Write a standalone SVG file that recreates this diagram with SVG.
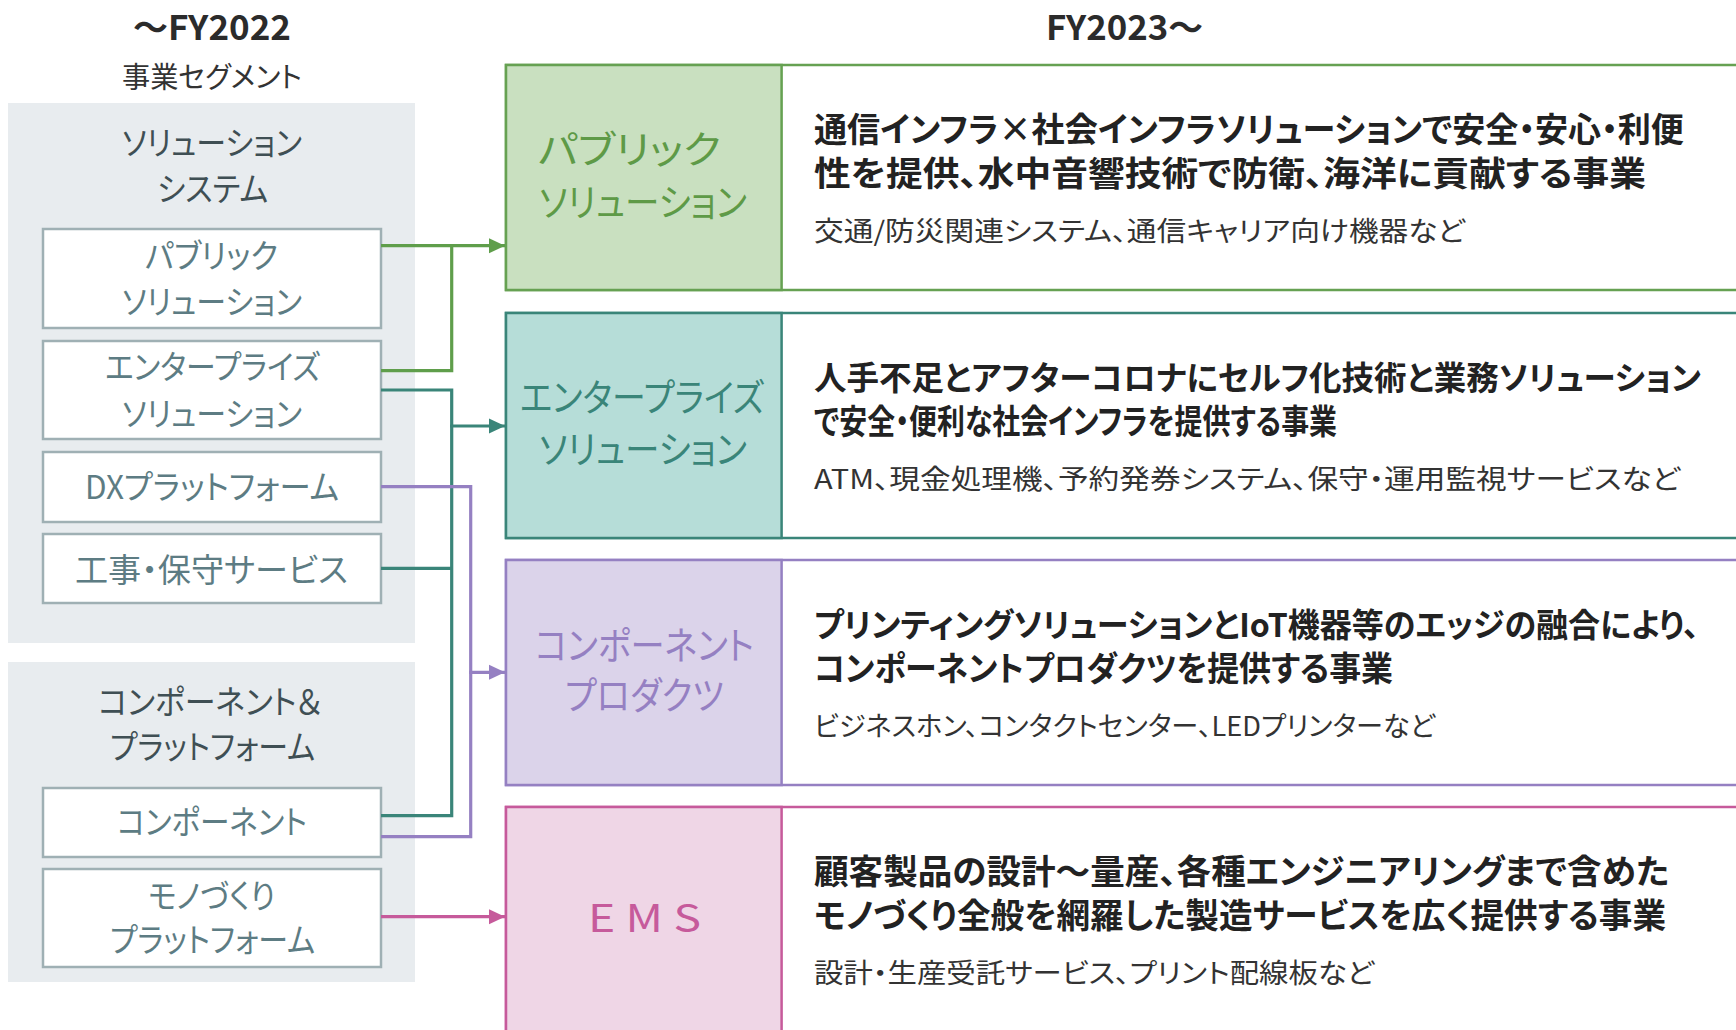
<svg xmlns="http://www.w3.org/2000/svg" width="1736" height="1030" viewBox="0 0 1736 1030">
<style>
text{font-family:"Noto Sans CJK JP","Noto Sans",sans-serif;font-feature-settings:"palt" 1;}
.hdr{font-size:34px;font-weight:700;fill:#2b2b2b;}
.seg{font-size:29px;fill:#333;}
.panel{fill:#e8ecef;}
.ptitle{font-size:33px;fill:#3f4f54;}
.wbox{fill:#fff;stroke:#9fb0b4;stroke-width:2.5;}
.wtxt{font-size:33px;fill:#5d7c83;}
.ctitle{font-size:38px;}
.desc{font-size:34px;font-weight:700;fill:#222;}
.desc.long{font-size:32.5px;}
.sub{font-size:27px;fill:#333;}
.conn{fill:none;stroke-width:3.2;}
.g{stroke:#5f9e4b;} .t{stroke:#3a8579;} .p{stroke:#9580c2;} .m{stroke:#c65a9b;}
</style>
<defs>
<marker id="ag" viewBox="0 0 16 16" refX="16" refY="8" markerWidth="16" markerHeight="16" markerUnits="userSpaceOnUse" orient="auto"><path d="M0,0.5 L16,8 L0,15.5 Z" fill="#5f9e4b"/></marker>
<marker id="at" viewBox="0 0 16 16" refX="16" refY="8" markerWidth="16" markerHeight="16" markerUnits="userSpaceOnUse" orient="auto"><path d="M0,0.5 L16,8 L0,15.5 Z" fill="#3a8579"/></marker>
<marker id="ap" viewBox="0 0 16 16" refX="16" refY="8" markerWidth="16" markerHeight="16" markerUnits="userSpaceOnUse" orient="auto"><path d="M0,0.5 L16,8 L0,15.5 Z" fill="#9580c2"/></marker>
<marker id="am" viewBox="0 0 16 16" refX="16" refY="8" markerWidth="16" markerHeight="16" markerUnits="userSpaceOnUse" orient="auto"><path d="M0,0.5 L16,8 L0,15.5 Z" fill="#c65a9b"/></marker>
</defs>
<rect width="1736" height="1030" fill="#fff"/>

<g id="headers">
<text class="hdr" x="133" y="40" textLength="158" lengthAdjust="spacingAndGlyphs">～FY2022</text>
<text class="seg" x="122" y="88" textLength="180" lengthAdjust="spacingAndGlyphs">事業セグメント</text>
<text class="hdr" x="1046" y="40" textLength="157" lengthAdjust="spacingAndGlyphs">FY2023～</text>
</g>

<g id="panel-solution-system">
<rect class="panel" x="8" y="103" width="407" height="540"/>
<text class="ptitle" x="122" y="155" textLength="180" lengthAdjust="spacingAndGlyphs">ソリューション</text>
<text class="ptitle" x="157" y="201" textLength="111" lengthAdjust="spacingAndGlyphs">システム</text>
</g>
<g id="panel-component-platform">
<rect class="panel" x="8" y="662" width="407" height="320"/>
<text class="ptitle" x="98" y="714" textLength="224" lengthAdjust="spacingAndGlyphs">コンポーネント＆</text>
<text class="ptitle" x="110" y="759" textLength="205" lengthAdjust="spacingAndGlyphs">プラットフォーム</text>
</g>

<g id="old-public">
<rect class="wbox" x="43" y="229" width="338" height="99"/>
<text class="wtxt" x="145" y="268" textLength="133" lengthAdjust="spacingAndGlyphs">パブリック</text>
<text class="wtxt" x="122" y="314" textLength="180" lengthAdjust="spacingAndGlyphs">ソリューション</text>
</g>
<g id="old-enterprise">
<rect class="wbox" x="43" y="341" width="338" height="98"/>
<text class="wtxt" x="105" y="379" textLength="215" lengthAdjust="spacingAndGlyphs">エンタープライズ</text>
<text class="wtxt" x="122" y="426" textLength="180" lengthAdjust="spacingAndGlyphs">ソリューション</text>
</g>
<g id="old-dx">
<rect class="wbox" x="43" y="452" width="338" height="70"/>
<text class="wtxt" x="85" y="499" textLength="254" lengthAdjust="spacingAndGlyphs">DXプラットフォーム</text>
</g>
<g id="old-service">
<rect class="wbox" x="43" y="534" width="338" height="69"/>
<text class="wtxt" x="75" y="582" textLength="273" lengthAdjust="spacingAndGlyphs">工事・保守サービス</text>
</g>
<g id="old-component">
<rect class="wbox" x="43" y="788" width="338" height="69"/>
<text class="wtxt" x="117" y="834" textLength="190" lengthAdjust="spacingAndGlyphs">コンポーネント</text>
</g>
<g id="old-monozukuri">
<rect class="wbox" x="43" y="869" width="338" height="98"/>
<text class="wtxt" x="148" y="908" textLength="127" lengthAdjust="spacingAndGlyphs">モノづくり</text>
<text class="wtxt" x="110" y="952" textLength="205" lengthAdjust="spacingAndGlyphs">プラットフォーム</text>
</g>

<g id="new-public">
<rect x="506" y="65" width="1236" height="225" fill="#fff" stroke="#66a152" stroke-width="2.5"/>
<rect x="506" y="65" width="275.6" height="225" fill="#c9e0c0" stroke="#66a152" stroke-width="2.5"/>
<text class="ctitle" fill="#5e9a47" x="538" y="163" textLength="183" lengthAdjust="spacingAndGlyphs">パブリック</text>
<text class="ctitle" fill="#5e9a47" x="539" y="216" textLength="208" lengthAdjust="spacingAndGlyphs">ソリューション</text>
<text class="desc" x="814" y="141.5" textLength="870" lengthAdjust="spacingAndGlyphs">通信インフラ×社会インフラソリューションで安全・安心・利便</text>
<text class="desc" x="814" y="186" textLength="832" lengthAdjust="spacingAndGlyphs">性を提供、水中音響技術で防衛、海洋に貢献する事業</text>
<text class="sub" x="814" y="241" textLength="651" lengthAdjust="spacingAndGlyphs">交通/防災関連システム、通信キャリア向け機器など</text>
</g>
<g id="new-enterprise">
<rect x="506" y="313" width="1236" height="225" fill="#fff" stroke="#3a8579" stroke-width="2.5"/>
<rect x="506" y="313" width="275.6" height="225" fill="#b6ddd8" stroke="#3a8579" stroke-width="2.5"/>
<text class="ctitle" fill="#3a8579" x="520" y="411" textLength="244" lengthAdjust="spacingAndGlyphs">エンタープライズ</text>
<text class="ctitle" fill="#3a8579" x="539" y="463" textLength="208" lengthAdjust="spacingAndGlyphs">ソリューション</text>
<text class="desc long" x="814" y="389.5" textLength="887" lengthAdjust="spacingAndGlyphs">人手不足とアフターコロナにセルフ化技術と業務ソリューション</text>
<text class="desc" x="814" y="434" textLength="523" lengthAdjust="spacingAndGlyphs">で安全・便利な社会インフラを提供する事業</text>
<text class="sub" x="814" y="489" textLength="866" lengthAdjust="spacingAndGlyphs">ATM、現金処理機、予約発券システム、保守・運用監視サービスなど</text>
</g>
<g id="new-component">
<rect x="506" y="560" width="1236" height="225" fill="#fff" stroke="#9580c2" stroke-width="2.5"/>
<rect x="506" y="560" width="275.6" height="225" fill="#dbd3ea" stroke="#9580c2" stroke-width="2.5"/>
<text class="ctitle" fill="#9580c2" x="535" y="659" textLength="219" lengthAdjust="spacingAndGlyphs">コンポーネント</text>
<text class="ctitle" fill="#9580c2" x="565" y="709" textLength="159" lengthAdjust="spacingAndGlyphs">プロダクツ</text>
<text class="desc long" x="814" y="636.5" textLength="885" lengthAdjust="spacingAndGlyphs">プリンティングソリューションとIoT機器等のエッジの融合により、</text>
<text class="desc" x="814" y="681" textLength="579" lengthAdjust="spacingAndGlyphs">コンポーネントプロダクツを提供する事業</text>
<text class="sub" x="814" y="736" textLength="621" lengthAdjust="spacingAndGlyphs">ビジネスホン、コンタクトセンター、LEDプリンターなど</text>
</g>
<g id="new-ems">
<rect x="506" y="807" width="1236" height="240" fill="#fff" stroke="#c65a9b" stroke-width="2.5"/>
<rect x="506" y="807" width="275.6" height="240" fill="#efd6e6" stroke="#c65a9b" stroke-width="2.5"/>
<text class="ctitle" fill="#c65a9b" x="588" y="932" font-size="40" textLength="113" lengthAdjust="spacingAndGlyphs">E M S</text>
<text class="desc" x="814" y="883.5" textLength="855" lengthAdjust="spacingAndGlyphs">顧客製品の設計～量産、各種エンジニアリングまで含めた</text>
<text class="desc" x="814" y="928" textLength="852" lengthAdjust="spacingAndGlyphs">モノづくり全般を網羅した製造サービスを広く提供する事業</text>
<text class="sub" x="814" y="983" textLength="560" lengthAdjust="spacingAndGlyphs">設計・生産受託サービス、プリント配線板など</text>
</g>

<g id="connectors">
<path class="conn g" d="M381,245.7 H505" marker-end="url(#ag)"/>
<path class="conn g" d="M381,370.7 H451.7 V244.1"/>
<path class="conn t" d="M381,390 H451.7 V815.7 H381"/>
<path class="conn t" d="M381,568.3 H451.7"/>
<path class="conn t" d="M450.1,426 H505" marker-end="url(#at)"/>
<path class="conn p" d="M381,486.7 H470.7 V836.7 H381"/>
<path class="conn p" d="M469.1,672.3 H505" marker-end="url(#ap)"/>
<path class="conn m" d="M381,916.7 H505" marker-end="url(#am)"/>
</g>
</svg>
